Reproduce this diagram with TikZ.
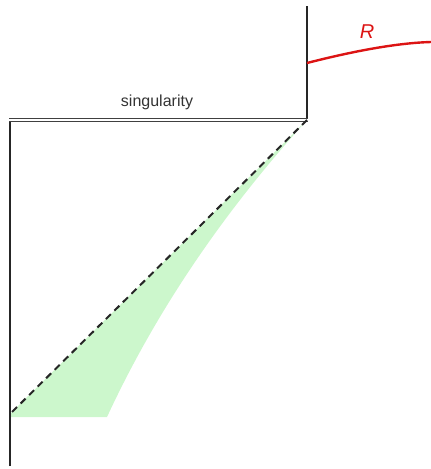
\documentclass[tikz,border=0pt]{standalone}
\usepackage{fontspec}
\setmainfont{Liberation Sans}
\begin{document}
\begin{tikzpicture}[x=1pt,y=-1pt,
  wall/.style={line width=2pt, draw=black!85},
  sing/.style={double=white, double distance=2.2pt, line width=1.3pt, draw=black!75},
  nullray/.style={dashed, dash pattern=on 7pt off 5pt, line width=2pt, draw=black!85},
  region/.style={fill={rgb,255:red,204;green,247;blue,204}, draw=none},
  redline/.style={line width=2.4pt, draw={rgb,255:red,220;green,20;blue,20}}]
\useasboundingbox (0,0) rectangle (431,469);
\coordinate (TL) at (10,120);
\coordinate (TR) at (307,120);
\coordinate (Rtop) at (307,6);
\coordinate (Lbot) at (10,466);
\coordinate (D) at (10,414);
\coordinate (G1) at (10,417);
\coordinate (G2) at (107,417);
\coordinate (Rs) at (307,63);
\coordinate (Re) at (431,42);
% green region
\path[region] (D) -- (TR) .. controls (221.7,214.3) and (155.3,312.7) .. (G2) -- (G1) -- cycle;
% walls
\draw[wall] (Lbot) -- ([yshift=-1pt]TL);
\draw[wall] (Rtop) -- ([yshift=2pt]TR);
\draw[sing] ([xshift=-1pt]TL) -- ([xshift=1pt]TR);
\draw[nullray] (TR) -- (D);
% red curve
\draw[redline] (Rs) .. controls (350,52) and (395,43) .. (Re);
\node[text=black!80, font=\fontsize{16}{19}\selectfont] (s) at (157,102) {singularity};
\node[text={rgb,255:red,220;green,20;blue,20}, font=\fontsize{20}{24}\selectfont\itshape] (r) at (367,32) {R};
\end{tikzpicture}
\end{document}
